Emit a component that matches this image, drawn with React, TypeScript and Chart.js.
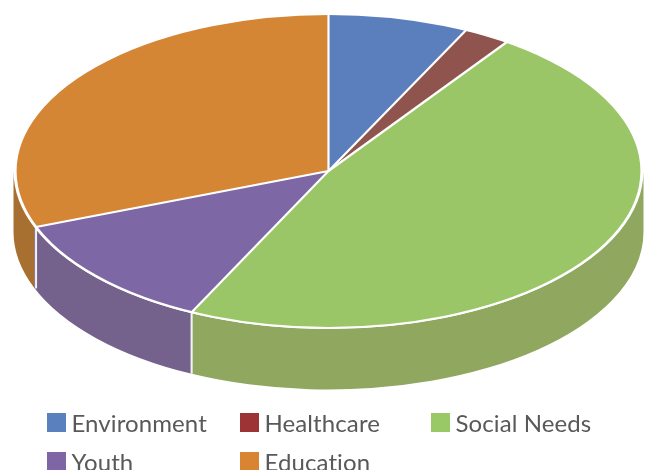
import { useEffect, useRef } from "react";
import { Chart, registerables, Plugin } from "chart.js";

Chart.register(...registerables);

const categories = ["Environment", "Healthcare", "Social Needs", "Youth", "Education"];
const values = [7.25, 2.4, 47.55, 12, 30.8];
const topColors = ["#5B7FBD", "#8E544D", "#9AC668", "#7D68A5", "#D58635"];
const wallColors = ["#4F6C9F", "#7A3F3C", "#8FA75F", "#74628C", "#A87030"];
const legendColors = ["#5B80BE", "#9E3335", "#99C866", "#7E66A4", "#D88432"];

const CX = 328.5;
const CY = 171;
const RX = 313;
const RY = 157;
const WALL_RX = 315;
const WALL_RY = 158;
const DEPTH = 60.5;

const legendColumns = [47, 240, 431];
const legendRows = [413, 452];

const pie3d: Plugin<"pie"> = {
  id: "pie3d",
  beforeDatasetsDraw(chart) {
    const ctx = chart.ctx;
    const arcs = chart.getDatasetMeta(0).data as any[];
    const frontEdges: number[] = [];
    arcs.forEach((arc, i) => {
      const start = Math.max(arc.startAngle, 0);
      const end = Math.min(arc.endAngle, Math.PI);
      if (end <= start) return;
      ctx.beginPath();
      ctx.ellipse(CX, CY, WALL_RX, WALL_RY, 0, start, end, false);
      ctx.ellipse(CX, CY + DEPTH, WALL_RX, WALL_RY, 0, end, start, true);
      ctx.closePath();
      ctx.fillStyle = wallColors[i];
      ctx.fill();
      if (arc.startAngle > 0) frontEdges.push(arc.startAngle);
    });
    ctx.strokeStyle = "#F2F2F2";
    ctx.lineWidth = 2;
    frontEdges.forEach((a) => {
      const x = CX + RX * Math.cos(a);
      const y = CY + RY * Math.sin(a);
      ctx.beginPath();
      ctx.moveTo(x, y);
      ctx.lineTo(x, y + DEPTH + 1);
      ctx.stroke();
    });
    const first = arcs[0];
    ctx.save();
    ctx.translate(CX, CY);
    ctx.scale(RX / first.outerRadius, RY / first.outerRadius);
    ctx.translate(-first.x, -first.y);
  },
  afterDatasetsDraw(chart) {
    const ctx = chart.ctx;
    ctx.restore();
    const arcs = chart.getDatasetMeta(0).data as any[];
    ctx.strokeStyle = "#FFFFFF";
    ctx.lineWidth = 2.2;
    ctx.lineJoin = "round";
    arcs.forEach((arc) => {
      ctx.beginPath();
      ctx.moveTo(CX, CY);
      ctx.lineTo(CX + RX * Math.cos(arc.startAngle), CY + RY * Math.sin(arc.startAngle));
      ctx.stroke();
    });
    ctx.beginPath();
    ctx.ellipse(CX, CY, RX, RY, 0, 0, Math.PI * 2);
    ctx.stroke();

    ctx.font = "24px Lato";
    (ctx as any).letterSpacing = "0.1px";
    ctx.textBaseline = "alphabetic";
    ctx.textAlign = "left";
    categories.forEach((label, i) => {
      const x = legendColumns[i % 3];
      const y = legendRows[Math.floor(i / 3)];
      ctx.fillStyle = legendColors[i];
      ctx.fillRect(x, y, 19, 19);
      ctx.fillStyle = "#595959";
      ctx.fillText(label, x + 24.5, y + 18.5);
    });
    (ctx as any).letterSpacing = "0px";
  },
};

export default function App() {
  const ref = useRef<HTMLCanvasElement>(null);
  useEffect(() => {
    const chart = new Chart(ref.current!, {
      type: "pie",
      data: {
        labels: categories,
        datasets: [
          {
            data: values,
            backgroundColor: topColors,
            borderWidth: 0,
            clip: false,
          } as any,
        ],
      },
      options: {
        animation: false,
        responsive: false,
        plugins: { legend: { display: false }, tooltip: { enabled: false } },
      },
      plugins: [pie3d],
    });
    return () => chart.destroy();
  }, []);
  return (
    <div style={{ position: "absolute", left: 0, top: 0, width: 649, height: 470, overflow: "hidden", background: "#fff" }}>
      <canvas ref={ref} width={649} height={470} style={{ display: "block" }} />
    </div>
  );
}
